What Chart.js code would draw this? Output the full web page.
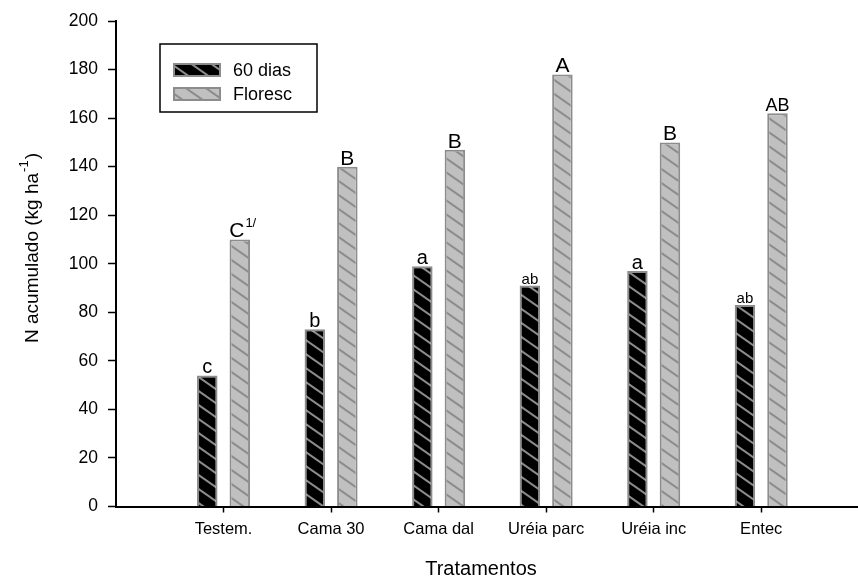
<!DOCTYPE html>
<html>
<head>
<meta charset="utf-8">
<script src="https://cdn.jsdelivr.net/npm/chart.js@4.4.1/dist/chart.umd.min.js"></script>
<style>
    html, body { margin: 0; padding: 0; background: #fff; }
    #chart-wrap { width: 858px; height: 580px; }
</style>
</head>
<body>
<div id="chart-wrap"><canvas id="n-chart" width="858" height="580"></canvas></div>
<script>
// Tratamentos e N acumulado (kg/ha)
const tratamentos = ['Testem.', 'Cama 30', 'Cama dal', 'Uréia parc', 'Uréia inc', 'Entec'];
const dias60 = [54, 73, 99, 91, 97, 83];
const floresc = [110, 140, 147, 178, 150, 162];
const letras60 = ['c', 'b', 'a', 'ab', 'a', 'ab'];
const letrasFloresc = ['C', 'B', 'B', 'A', 'B', 'AB'];
const yTicks = [0, 20, 40, 60, 80, 100, 120, 140, 160, 180, 200];

const FONT = "'Liberation Sans', Arial, sans-serif";

// diagonal hatch fill ("\" direction)
function makeHatch(bg, line) {
    const w = 20, h = 14;
    const c = document.createElement('canvas');
    c.width = w; c.height = h;
    const g = c.getContext('2d');
    g.fillStyle = bg;
    g.fillRect(0, 0, w, h);
    g.strokeStyle = line;
    g.lineWidth = 2;
    [-w, 0, w].forEach(function(dx) {
        g.beginPath();
        g.moveTo(dx - w, -h);
        g.lineTo(dx + 2 * w, 2 * h);
        g.stroke();
    });
    return g.createPattern(c, 'repeat');
}

const hatchBlack = makeHatch('#000000', '#8c8c8c');
const hatchGray = makeHatch('#c0c0c0', '#8c8c8c');

// letters over the bars + legend box + axis titles
const annotations = {
    id: 'annotations',
    afterDatasetsDraw(chart) {
        const ctx = chart.ctx;
        const sets = [letras60, letrasFloresc];
        ctx.save();
        ctx.fillStyle = '#000';
        ctx.textAlign = 'center';
        ctx.textBaseline = 'alphabetic';
        sets.forEach(function(letters, di) {
            const meta = chart.getDatasetMeta(di);
            meta.data.forEach(function(bar, i) {
                const txt = letters[i];
                let size;
                if (di === 0) size = txt.length > 1 ? 15 : 20;
                else size = txt.length > 1 ? 18 : 21;
                ctx.font = size + 'px ' + FONT;
                if (di === 1 && i === 0) {
                    ctx.fillText(txt, bar.x - 3, bar.y - 2);
                    const w = ctx.measureText(txt).width;
                    ctx.font = '13px ' + FONT;
                    ctx.textAlign = 'left';
                    ctx.fillText('1/', bar.x - 3 + w / 2 + 1, bar.y - 12);
                    ctx.textAlign = 'center';
                } else {
                    ctx.fillText(txt, bar.x, bar.y - 2);
                }
            });
        });

        // legend
        const lx = 160, ly = 44, lw = 157, lh = 68;
        ctx.lineWidth = 1.5;
        ctx.strokeStyle = '#000';
        ctx.strokeRect(lx, ly, lw, lh);
        const items = [
            { label: chart.data.datasets[0].label, fill: hatchBlack, y: 63 },
            { label: chart.data.datasets[1].label, fill: hatchGray, y: 87 }
        ];
        items.forEach(function(it) {
            ctx.fillStyle = it.fill;
            ctx.fillRect(173, it.y, 48, 14);
            ctx.strokeStyle = '#8c8c8c';
            ctx.lineWidth = 2;
            ctx.strokeRect(174, it.y + 1, 46, 12);
            ctx.fillStyle = '#000';
            ctx.font = '18px ' + FONT;
            ctx.textAlign = 'left';
            ctx.textBaseline = 'middle';
            ctx.fillText(it.label, 233, it.y + 8);
        });

        // x title
        ctx.textAlign = 'center';
        ctx.textBaseline = 'middle';
        ctx.font = '20px ' + FONT;
        ctx.fillText('Tratamentos', 481, 569);

        // y title with superscript
        ctx.translate(33, 248);
        ctx.rotate(-Math.PI / 2);
        ctx.font = '19px ' + FONT;
        const main = 'N acumulado (kg ha';
        const sup = '-1';
        const end = ')';
        const wMain = ctx.measureText(main).width;
        const wEnd = ctx.measureText(end).width;
        ctx.font = '13px ' + FONT;
        const wSup = ctx.measureText(sup).width;
        const total = wMain + wSup + wEnd + 2;
        let x0 = -total / 2;
        ctx.textAlign = 'left';
        ctx.font = '19px ' + FONT;
        ctx.fillText(main, x0, 0);
        ctx.font = '13px ' + FONT;
        ctx.fillText(sup, x0 + wMain + 1, -9);
        ctx.font = '19px ' + FONT;
        ctx.fillText(end, x0 + wMain + wSup + 2, 0);
        ctx.restore();
    }
};

new Chart(document.getElementById('n-chart').getContext('2d'), {
    type: 'bar',
    data: {
        datasets: [{
            label: '60 dias',
            data: dias60.map(function(v, i) { return { x: i + 1, y: v }; }),
            backgroundColor: hatchBlack,
            borderColor: '#8c8c8c',
            borderWidth: 2,
            borderSkipped: 'bottom'
        }, {
            label: 'Floresc',
            data: floresc.map(function(v, i) { return { x: i + 1, y: v }; }),
            backgroundColor: hatchGray,
            borderColor: '#8c8c8c',
            borderWidth: 2,
            borderSkipped: 'bottom'
        }]
    },
    options: {
        responsive: false,
        animation: false,
        devicePixelRatio: 1,
        barPercentage: 0.63,
        categoryPercentage: 0.605,
        layout: { padding: { top: 21, right: 0, left: 0, bottom: 0 } },
        plugins: {
            legend: { display: false },
            tooltip: { enabled: false }
        },
        scales: {
            x: {
                type: 'linear',
                min: 0,
                max: 6.9,
                offset: false,
                afterFit: function(s) { s.height = 73.5; },
                afterBuildTicks: function(axis) {
                    axis.ticks = tratamentos.map(function(t, i) { return { value: i + 1 }; });
                },
                grid: {
                    offset: false,
                    drawOnChartArea: false,
                    drawTicks: true,
                    tickLength: 6,
                    tickWidth: 1.5,
                    tickColor: '#000'
                },
                border: { display: true, color: '#000', width: 2 },
                ticks: {
                    autoSkip: false,
                    maxRotation: 0,
                    padding: 7,
                    color: '#000',
                    font: { family: FONT, size: 16.5 },
                    callback: function(value) { return tratamentos[value - 1]; }
                }
            },
            y: {
                min: 0,
                max: 200,
                afterFit: function(s) { s.width = 116; },
                afterBuildTicks: function(axis) {
                    axis.ticks = yTicks.map(function(v) { return { value: v }; });
                },
                grid: {
                    drawOnChartArea: false,
                    drawTicks: true,
                    tickLength: 8,
                    tickWidth: 1.5,
                    tickColor: '#000'
                },
                border: { display: true, color: '#000', width: 2 },
                ticks: {
                    padding: 10,
                    color: '#000',
                    font: { family: FONT, size: 17.5 }
                }
            }
        }
    },
    plugins: [annotations]
});
</script>
</body>
</html>
